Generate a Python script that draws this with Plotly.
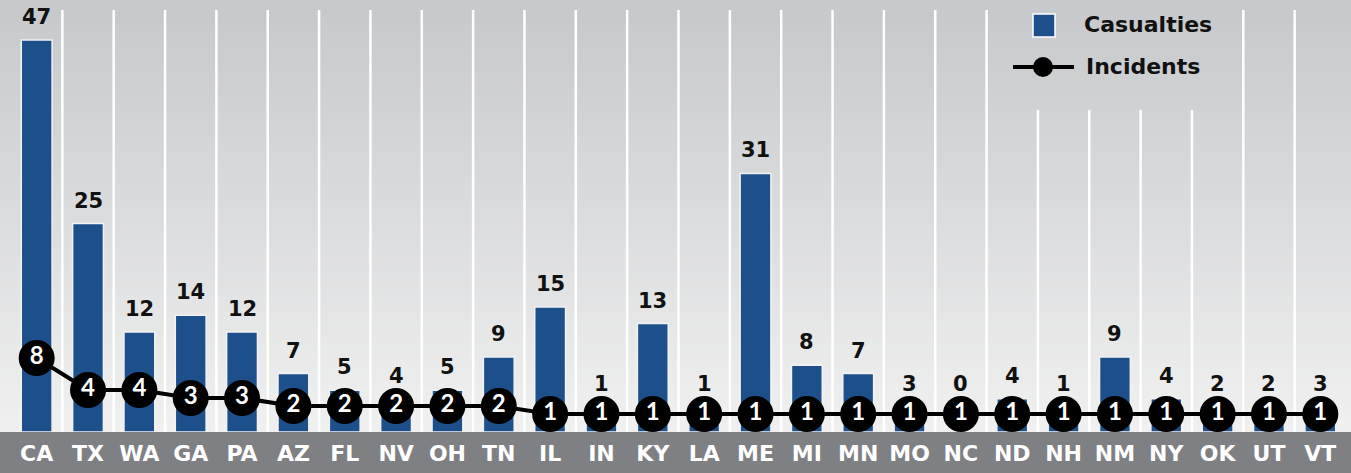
import plotly.graph_objects as go

states = ["CA", "TX", "WA", "GA", "PA", "AZ", "FL", "NV", "OH", "TN", "IL", "IN", "KY",
          "LA", "ME", "MI", "MN", "MO", "NC", "ND", "NH", "NM", "NY", "OK", "UT", "VT"]
casualties = [47, 25, 12, 14, 12, 7, 5, 4, 5, 9, 15, 1, 13, 1, 31, 8, 7, 3, 0, 4, 1, 9, 4, 2, 2, 3]
incidents = [8, 4, 4, 3, 3, 2, 2, 2, 2, 2, 1, 1, 1, 1, 1, 1, 1, 1, 1, 1, 1, 1, 1, 1, 1, 1]

W, H = 1351, 473
ML, MR, MT, MB = 11, 5, 0, 41
PW, PH = W - ML - MR, H - MT - MB

def px(x):
    return (x - ML) / PW

def py(y):
    return (H - MB - y) / PH

BLUE = "#1d4f8b"
FONT = "DejaVu Sans"

fig = go.Figure()

fig.add_trace(go.Bar(
    x=states, y=casualties, width=0.6,
    marker=dict(color=BLUE, line=dict(color="#f2f2f2", width=1.5)),
    name="Casualties", showlegend=False, hoverinfo="x+y",
))
fig.add_trace(go.Scatter(
    x=states, y=incidents, yaxis="y2", mode="lines+markers+text",
    line=dict(color="black", width=4),
    marker=dict(color="black", size=36, line=dict(color="black", width=0)),
    text=[str(v) for v in incidents], textposition="middle center",
    textfont=dict(color="white", size=24, family="Lato", weight="bold"),
    name="Incidents", showlegend=False, cliponaxis=False,
))

shapes = []
# gradient background
n = 60
c0 = (198, 200, 203)
c1 = (240, 240, 240)
band_h = (H - MB) / n
for i in range(n):
    t = i / (n - 1)
    c = tuple(int(round(c0[k] + (c1[k] - c0[k]) * t)) for k in range(3))
    shapes.append(dict(type="rect", xref="paper", yref="paper",
                       x0=px(0), x1=px(W), y0=py(i * band_h + band_h + 0.5), y1=py(i * band_h),
                       fillcolor="rgb(%d,%d,%d)" % c, line=dict(width=0), layer="below"))
# vertical white grid lines between categories
for i in range(len(states) - 1):
    top = 110 if 19 <= i <= 22 else 10
    shapes.append(dict(type="line", xref="x", yref="paper", x0=i + 0.5, x1=i + 0.5,
                       y0=0, y1=py(top), line=dict(color="white", width=2.5), layer="below"))
# category band
shapes.append(dict(type="rect", xref="paper", yref="paper", x0=px(0), x1=px(W),
                   y0=py(H), y1=py(H - MB), fillcolor="#7f8083", line=dict(width=0), layer="below"))
# legend
shapes.append(dict(type="rect", xref="paper", yref="paper", x0=px(1033), x1=px(1055),
                   y0=py(37), y1=py(14), fillcolor=BLUE, line=dict(color="white", width=1.5)))
shapes.append(dict(type="line", xref="paper", yref="paper", x0=px(1013), x1=px(1074),
                   y0=py(67), y1=py(67), line=dict(color="black", width=4)))
shapes.append(dict(type="circle", xref="paper", yref="paper", x0=px(1033), x1=px(1053),
                   y0=py(77), y1=py(57), fillcolor="black", line=dict(color="black", width=0)))

annotations = []
for s, v in zip(states, casualties):
    annotations.append(dict(x=s, y=max(v, 3.0), xref="x", yref="y", text=str(v),
                            showarrow=False, yanchor="middle", yshift=23,
                            font=dict(size=21, color="#111111", family=FONT, weight="bold")))
annotations.append(dict(x=px(1082), y=py(25), xref="paper", yref="paper", text="Casualties",
                        showarrow=False, xanchor="left", yanchor="middle",
                        font=dict(size=22, color="#111111", family=FONT, weight="bold")))
annotations.append(dict(x=px(1084), y=py(67), xref="paper", yref="paper", text="Incidents",
                        showarrow=False, xanchor="left", yanchor="middle",
                        font=dict(size=22, color="#111111", family=FONT, weight="bold")))

fig.update_layout(
    width=W, height=H,
    margin=dict(l=ML, r=MR, t=MT, b=MB, autoexpand=False),
    paper_bgcolor="#dcdcdc", plot_bgcolor="rgba(0,0,0,0)",
    xaxis=dict(type="category", range=[-0.5, len(states) - 0.5], showgrid=False,
               zeroline=False, showline=False, ticks="", ticklabelstandoff=6,
               tickfont=dict(color="white", size=22, family=FONT, weight="bold")),
    yaxis=dict(range=[0, PH / 8.34], visible=False, showgrid=False, zeroline=False),
    yaxis2=dict(range=[-10 / 8.0, (PH - 10) / 8.0], overlaying="y", visible=False,
                showgrid=False, zeroline=False),
    shapes=shapes, annotations=annotations, bargap=0.4, showlegend=False,
)

fig.write_html("out.html", config={"displayModeBar": False},
               post_script="document.body.style.margin='0';document.body.style.overflow='hidden';")
